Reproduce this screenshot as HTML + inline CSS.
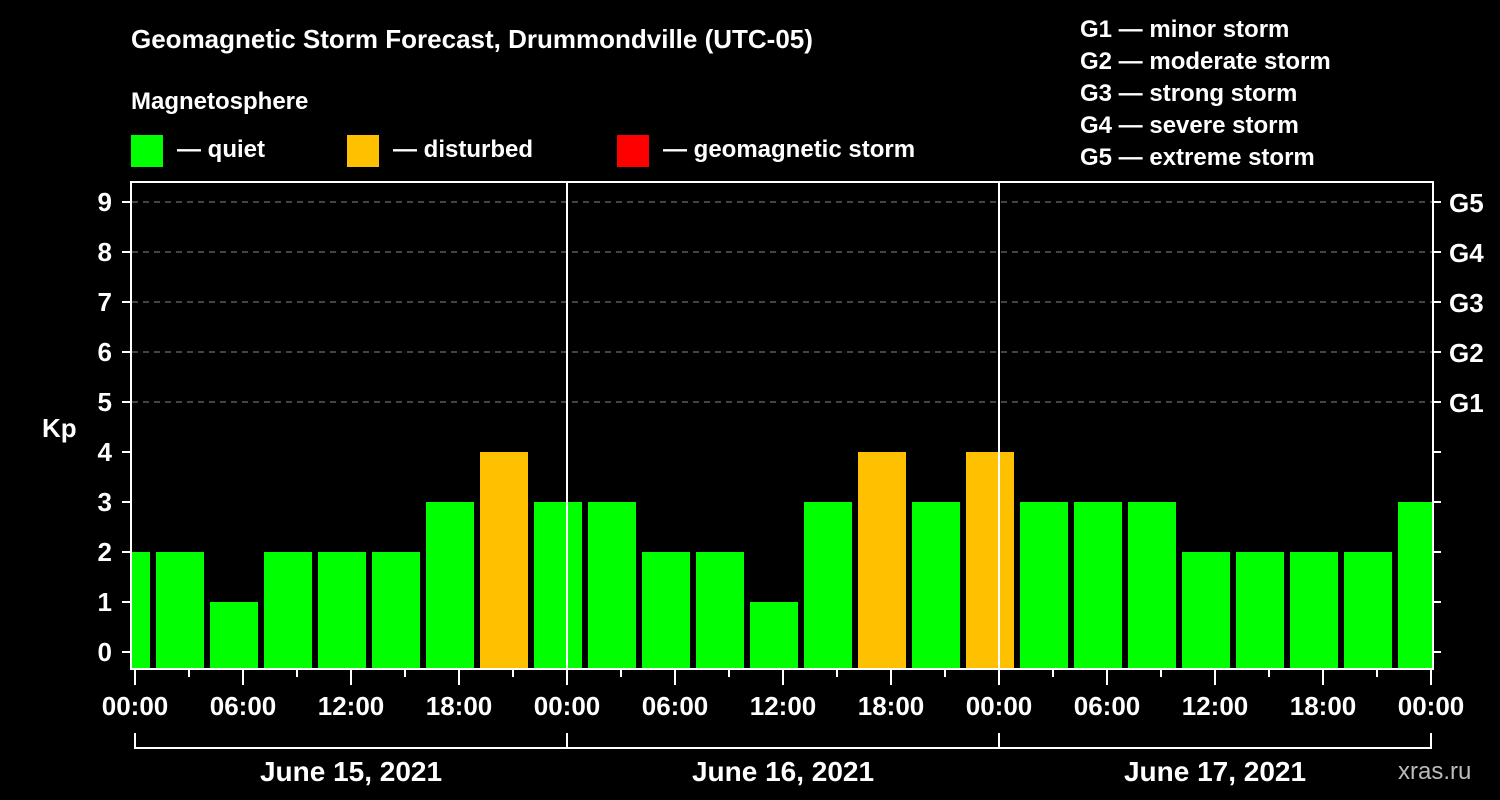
<!DOCTYPE html>
<html><head><meta charset="utf-8"><style>
html,body{margin:0;padding:0;background:#000;}
svg{display:block;font-family:"Liberation Sans",Arial,sans-serif;font-weight:bold;}
</style></head><body>
<svg id="c" width="1500" height="800" viewBox="0 0 1500 800">
<defs><clipPath id="pc"><rect x="132" y="182" width="1300" height="487"/></clipPath></defs>
<text x="131" y="48" fill="#fff" font-size="26">Geomagnetic Storm Forecast, Drummondville (UTC-05)</text>
<text x="131" y="109" fill="#fff" font-size="24">Magnetosphere</text>
<g><rect x="131" y="135" width="32" height="32" fill="#00ff00"/><text x="177" y="157" fill="#fff" font-size="24">— quiet</text></g>
<g><rect x="347" y="135" width="32" height="32" fill="#ffc000"/><text x="393" y="157" fill="#fff" font-size="24">— disturbed</text></g>
<g><rect x="617" y="135" width="32" height="32" fill="#ff0000"/><text x="663" y="157" fill="#fff" font-size="24">— geomagnetic storm</text></g>
<g fill="#fff" font-size="24">
<text x="1080" y="37">G1 — minor storm</text><text x="1080" y="69">G2 — moderate storm</text><text x="1080" y="101">G3 — strong storm</text><text x="1080" y="133">G4 — severe storm</text><text x="1080" y="165">G5 — extreme storm</text>
</g>
<text x="42" y="437" fill="#fff" font-size="26">Kp</text>
<text x="1398" y="779" fill="#bbb" font-size="24" font-weight="normal">xras.ru</text>
<g id="grid"></g><g id="bars" clip-path="url(#pc)"></g><g id="axes"></g>
</svg>
<script>
const kpValues=[2,2,1,2,2,2,3,4,3,3,2,2,1,3,4,3,4,3,3,3,2,2,2,2,3];
const yTicks=[0,1,2,3,4,5,6,7,8,9];
const gLabels=["G1","G2","G3","G4","G5"];
const xLabels=["00:00","06:00","12:00","18:00","00:00","06:00","12:00","18:00","00:00","06:00","12:00","18:00","00:00"];
const dayLabels=["June 15, 2021","June 16, 2021","June 17, 2021"];
const NS="http://www.w3.org/2000/svg";
const L=132,R=1432,T=182,B=669,X0=135,DAY=432;
const y=v=>652-50*v;
const xh=h=>X0+DAY*h/24;
function mk(p,t,a){const e=document.createElementNS(NS,t);for(const k in a)e.setAttribute(k,a[k]);p.appendChild(e);return e;}
const grid=document.getElementById('grid'),bars=document.getElementById('bars'),axes=document.getElementById('axes');
for(let v=5;v<=9;v++){const g=mk(grid,'line',{x1:L,x2:R,y1:y(v),y2:y(v),stroke:'#888','stroke-dasharray':'6,5','stroke-width':1});

}
kpValues.forEach((v,i)=>{const cx=xh(i*3)-9;const col=v>=5?'#ff0000':(v>=4?'#ffc000':'#00ff00');
const r=mk(bars,'rect',{x:cx-24,y:y(v),width:48,height:B-y(v),fill:col});

});
[1,2].forEach(d=>{const l=mk(axes,'line',{x1:xh(d*24),x2:xh(d*24),y1:T,y2:B,stroke:'#fff','stroke-width':2});

});
const fr=mk(axes,'rect',{x:L-1,y:T,width:R-L+2,height:B-T,fill:'none',stroke:'#fff','stroke-width':2});


yTicks.forEach(v=>{mk(axes,'line',{x1:L-10,x2:L-1,y1:y(v),y2:y(v),stroke:'#fff','stroke-width':2});
mk(axes,'line',{x1:R+1,x2:R+9,y1:y(v),y2:y(v),stroke:'#fff','stroke-width':2});
const t=mk(axes,'text',{x:112,y:y(v)+9,fill:'#fff','font-size':26,'text-anchor':'end'});t.textContent=v;

});
gLabels.forEach((g,i)=>{const t=mk(axes,'text',{x:1449,y:y(i+5)+10,fill:'#fff','font-size':26});t.textContent=g;

});
for(let h=0;h<=72;h+=3){const major=h%6===0;mk(axes,'line',{x1:xh(h),x2:xh(h),y1:B,y2:B+(major?16:8),stroke:'#fff','stroke-width':2});}
xLabels.forEach((s,i)=>{const t=mk(axes,'text',{x:xh(i*6),y:715,fill:'#fff','font-size':26,'text-anchor':'middle'});t.textContent=s;

});
mk(axes,'path',{d:`M${xh(0)},733V748H${xh(72)}V733M${xh(24)},733V748M${xh(48)},733V748`,fill:'none',stroke:'#fff','stroke-width':2});
dayLabels.forEach((s,i)=>{const t=mk(axes,'text',{x:xh(i*24+12),y:781,fill:'#fff','font-size':28,'text-anchor':'middle'});t.textContent=s;

});
</script>
</body></html>
